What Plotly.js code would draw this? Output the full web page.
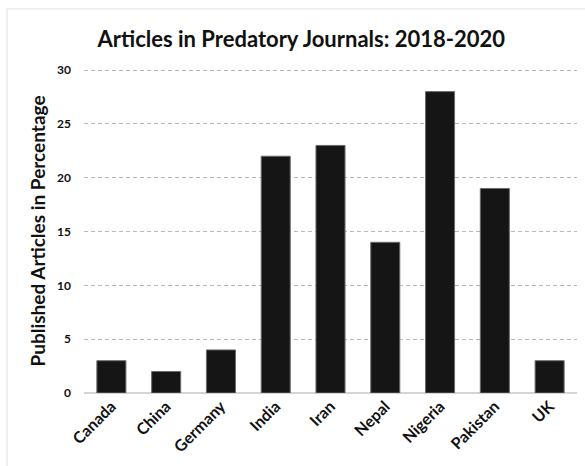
<!DOCTYPE html>
<html>
<head>
<meta charset="utf-8">
<script src="https://cdn.plot.ly/plotly-3.0.1.min.js"></script>
<style>
  html, body { margin: 0; padding: 0; background: #ffffff; }
  #chart { width: 585px; height: 466px; }
</style>
</head>
<body>
<div id="chart"></div>
<script>
// Share of articles published in predatory journals, by country (2018-2020)
const countries = ["Canada", "China", "Germany", "India", "Iran", "Nepal", "Nigeria", "Pakistan", "UK"];
const percentages = [3, 2, 4, 22, 23, 14, 28, 19, 3];
const yTicks = [0, 5, 10, 15, 20, 25, 30];

const trace = {
  type: "bar",
  x: countries,
  y: percentages,
  marker: {
    color: "#151515",
    line: { color: "#6a6a6a", width: 1 }
  },
  hoverinfo: "x+y"
};

const font = "Lato, 'Open Sans', 'DejaVu Sans', sans-serif";

const layout = {
  width: 585,
  height: 466,
  margin: { l: 84, r: 8, t: 69, b: 73 },
  paper_bgcolor: "#ffffff",
  plot_bgcolor: "#ffffff",
  bargap: 0.47,
  showlegend: false,
  title: {
    text: "<b>Articles in Predatory Journals: 2018-2020</b>",
    font: { family: font, size: 22, color: "#111111" },
    x: 0.515,
    xanchor: "center",
    y: 0.915,
    yanchor: "middle"
  },
  xaxis: {
    tickangle: -45,
    tickvals: countries,
    ticktext: countries.map(c => "<b>" + c + "</b>"),
    tickfont: { family: font, size: 16, color: "#111111" },
    showgrid: false,
    showline: false,
    ticks: "",
    ticklen: 0
  },
  yaxis: {
    range: [0, 30.1],
    tickvals: yTicks,
    ticktext: yTicks.map(v => "<b>" + v + "</b>"),
    tickfont: { family: font, size: 12, color: "#111111" },
    showgrid: true,
    gridcolor: "#b8b8b8",
    griddash: "4px,3px",
    gridwidth: 1,
    zeroline: true,
    zerolinecolor: "#d4d4d4",
    zerolinewidth: 1.5,
    showline: false,
    ticks: "",
    ticklabelstandoff: 12,
    title: {
      text: "<b>Published Articles in Percentage</b>",
      font: { family: font, size: 19, color: "#111111" },
      standoff: 6
    }
  },
  shapes: [{
    type: "rect",
    xref: "paper", yref: "paper",
    x0: -0.156, x1: 1.2,
    y0: -0.4, y1: 1.186,
    line: { color: "#ececec", width: 1.5 },
    fillcolor: "rgba(0,0,0,0)",
    layer: "below"
  }]
};

Plotly.newPlot("chart", [trace], layout, { staticPlot: true, displayModeBar: false });
</script>
</body>
</html>
